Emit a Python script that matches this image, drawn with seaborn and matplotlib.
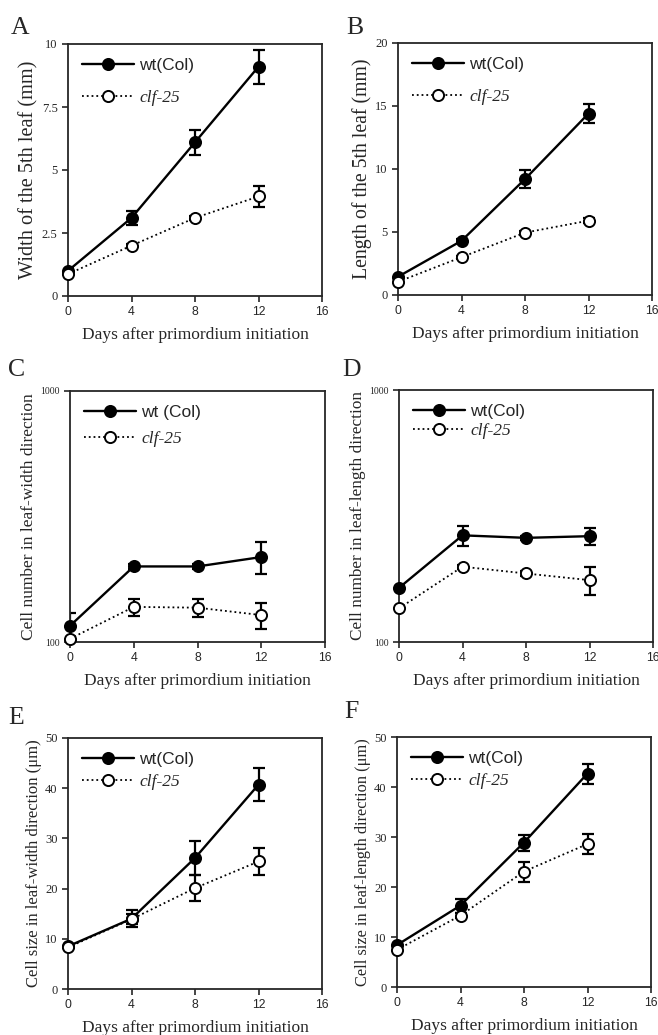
import numpy as np
import pandas as pd
import matplotlib
matplotlib.use("Agg")
import matplotlib.pyplot as plt
import matplotlib.ticker as mticker
import seaborn as sns

days = [0, 4, 8, 12]
genotypes = ["wt(Col)", "clf-25"]

# A: width of the 5th leaf (mm)
a_wt = [1.0, 3.1, 6.1, 9.1]
a_wt_err = [0.1, 0.28, 0.5, 0.68]
a_clf = [0.87, 2.0, 3.1, 3.95]
a_clf_err = [0.05, 0.08, 0.08, 0.4]

# B: length of the 5th leaf (mm)
b_wt = [1.45, 4.3, 9.2, 14.4]
b_wt_err = [0.1, 0.15, 0.7, 0.75]
b_clf = [1.05, 3.0, 4.95, 5.9]
b_clf_err = [0.05, 0.1, 0.15, 0.2]

# C: cell number in leaf-width direction
c_wt = [116, 200, 200, 218]
c_wt_err = [15, 4, 4, 32]
c_clf = [103, 138, 137, 128]
c_clf_err = [2, 11, 11.5, 15.5]

# D: cell number in leaf-length direction
d_wt = [164, 265, 259, 263]
d_wt_err = [4, 24, 4, 21]
d_clf = [136, 199, 187, 176]
d_clf_err = [3, 4, 4, 22]

# E: cell size in leaf-width direction (um)
e_wt = [8.5, 14.0, 26.1, 40.7]
e_wt_err = [0.5, 1.7, 3.4, 3.3]
e_clf = [8.3, 13.9, 20.1, 25.4]
e_clf_err = [0.4, 1.0, 2.6, 2.7]

# F: cell size in leaf-length direction (um)
f_wt = [8.4, 16.3, 28.9, 42.7]
f_wt_err = [0.5, 1.4, 1.6, 2.0]
f_clf = [7.45, 14.3, 23.1, 28.6]
f_clf_err = [0.4, 0.5, 2.0, 2.0]

panels = [
    ("A", a_wt, a_wt_err, a_clf, a_clf_err, "Width of the 5th leaf (mm)", (0, 10), [0, 2.5, 5, 7.5, 10], ["0", "2.5", "5", "7.5", "10"], False),
    ("B", b_wt, b_wt_err, b_clf, b_clf_err, "Length of the 5th leaf (mm)", (0, 20), [0, 5, 10, 15, 20], ["0", "5", "10", "15", "20"], False),
    ("C", c_wt, c_wt_err, c_clf, c_clf_err, "Cell number in leaf-width direction", (100, 1000), [100, 1000], ["100", "1000"], True),
    ("D", d_wt, d_wt_err, d_clf, d_clf_err, "Cell number in leaf-length direction", (100, 1000), [100, 1000], ["100", "1000"], True),
    ("E", e_wt, e_wt_err, e_clf, e_clf_err, "Cell size in leaf-width direction (\u03bcm)", (0, 50), [0, 10, 20, 30, 40, 50], ["0", "10", "20", "30", "40", "50"], False),
    ("F", f_wt, f_wt_err, f_clf, f_clf_err, "Cell size in leaf-length direction (\u03bcm)", (0, 50), [0, 10, 20, 30, 40, 50], ["0", "10", "20", "30", "40", "50"], False),
]
wt_names = ["wt(Col)", "wt(Col)", "wt (Col)", "wt(Col)", "wt(Col)", "wt(Col)"]

# axes boxes in pixels: left, top, right, bottom
boxes = [(68, 44, 322, 296), (398, 43, 652, 295),
         (70, 391, 325, 642), (399, 390, 653, 642),
         (68, 738, 322, 989), (397, 737, 651, 987)]
letter_pos = [(11, 34), (346, 34), (8, 376), (342, 376), (8, 724), (344, 718)]
ylabel_size = [14.6, 14.2, 12.5, 12.4, 12.0, 11.8]
leg_spacing = [0.95, 0.95, 0.65, 0.22, 0.38, 0.38]

sns.set_style("ticks")
plt.rcParams["font.family"] = ["Liberation Serif", "DejaVu Serif"]

W, H = 658, 1035
fig = plt.figure(figsize=(W / 100, H / 100), dpi=100)

for i, ((letter, wt, wt_err, clf, clf_err, ylab, ylim, yt, ytl, logy), box, lp) in enumerate(zip(panels, boxes, letter_pos)):
    l, t, r, b = box
    ax = fig.add_axes([l / W, 1 - b / H, (r - l) / W, (b - t) / H])
    df = pd.DataFrame({
        "day": days * 2,
        "value": wt + clf,
        "err": wt_err + clf_err,
        "genotype": [wt_names[i]] * 4 + [genotypes[1]] * 4,
    })
    for g, ls, fc in [(wt_names[i], "-", "black"), (genotypes[1], ":", "white")]:
        sub = df[df.genotype == g]
        ax.errorbar(sub.day, sub.value, yerr=sub.err, fmt="none", ecolor="black",
                    elinewidth=1.6, capsize=4, capthick=1.6, zorder=2)
        sns.lineplot(data=sub, x="day", y="value", ax=ax, color="black",
                     linestyle=ls, linewidth=1.7 if ls == "-" else 1.3,
                     marker="o", markersize=8, markerfacecolor=fc,
                     markeredgecolor="black", markeredgewidth=1.4,
                     label=g, zorder=3, clip_on=False)
    if logy:
        ax.set_yscale("log")
        ax.yaxis.set_minor_locator(mticker.NullLocator())
    ax.set_xlim(0, 16)
    ax.set_ylim(*ylim)
    ax.set_xticks([0, 4, 8, 12, 16])
    ax.set_xticklabels(["0", "4", "8", "12", "16"], family="Liberation Sans", fontsize=8.8)
    ax.set_yticks(yt)
    ax.set_yticklabels(ytl, fontsize=7 if logy else 9)
    ax.tick_params(direction="out", length=4, width=1.2)
    for s in ax.spines.values():
        s.set_linewidth(1.3)
        s.set_visible(True)
    ax.set_xlabel("Days after primordium initiation", fontsize=12.5, labelpad=6)
    ax.set_ylabel(ylab, fontsize=ylabel_size[i], labelpad=2)
    leg = ax.legend(loc="upper left", frameon=False, handlelength=3.0,
                    handletextpad=0.3, borderaxespad=0.4,
                    labelspacing=leg_spacing[i], fontsize=12.5)
    texts = leg.get_texts()
    texts[0].set_family("Liberation Sans")
    texts[1].set_family("Liberation Serif")
    texts[1].set_style("italic")
    fig.text(lp[0] / W, 1 - lp[1] / H, letter, fontsize=18.5, ha="left", va="baseline")

fig.savefig("out.png", dpi=100)
